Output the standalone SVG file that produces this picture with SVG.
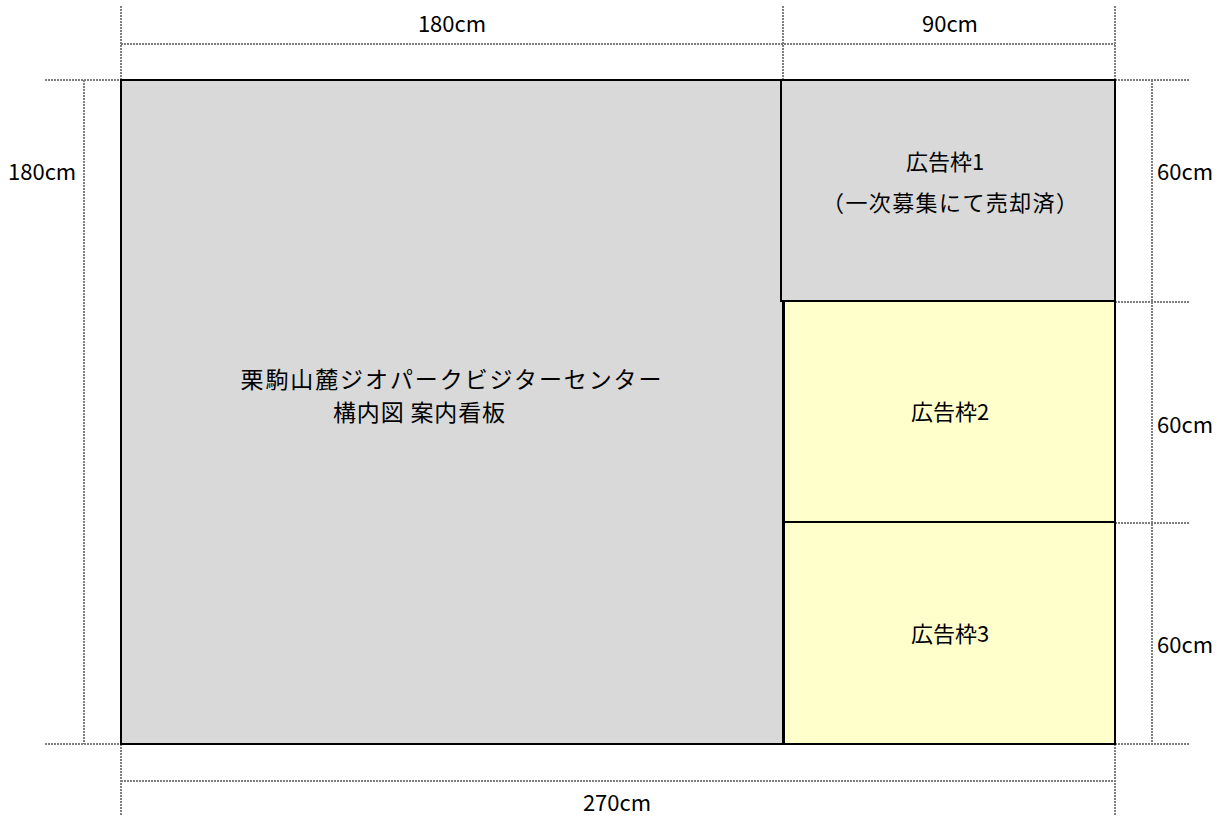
<svg xmlns="http://www.w3.org/2000/svg" width="1227" height="816" viewBox="0 0 1227 816">
<style>
.dim{stroke:#7f7f7f;stroke-width:2;stroke-dasharray:2 1;fill:none}
.box{stroke:#000;stroke-width:2}
.gray{fill:#d9d9d9}
.yel{fill:#ffffcc}
text{font-family:"Noto Sans CJK JP","Noto Sans",sans-serif;fill:#000}
.t{font-size:22px;text-anchor:middle}
.d{font-size:22px}
.m{font-size:23px}
</style>
<rect width="1227" height="816" fill="#fff"/>
<g id="dimensions">
<line class="dim" x1="121" y1="6" x2="121" y2="80"/>
<line class="dim" x1="783" y1="6" x2="783" y2="80"/>
<line class="dim" x1="1115" y1="6" x2="1115" y2="80"/>
<line class="dim" x1="121" y1="44" x2="1115" y2="44"/>
<line class="dim" x1="45" y1="80" x2="121" y2="80"/>
<line class="dim" x1="45" y1="744" x2="121" y2="744"/>
<line class="dim" x1="84" y1="80" x2="84" y2="744"/>
<line class="dim" x1="1115" y1="80" x2="1190" y2="80"/>
<line class="dim" x1="1115" y1="302" x2="1190" y2="302"/>
<line class="dim" x1="1115" y1="523" x2="1190" y2="523"/>
<line class="dim" x1="1115" y1="744" x2="1190" y2="744"/>
<line class="dim" x1="1152" y1="80" x2="1152" y2="744"/>
<line class="dim" x1="121" y1="744" x2="121" y2="816"/>
<line class="dim" x1="1115" y1="744" x2="1115" y2="816"/>
<line class="dim" x1="121" y1="781" x2="1115" y2="781"/>
<text class="d" x="452" y="32" text-anchor="middle">180cm</text>
<text class="d" x="950" y="32" text-anchor="middle">90cm</text>
<text class="d" x="617" y="811" text-anchor="middle">270cm</text>
<text class="d" x="8" y="180">180cm</text>
<text class="d" x="1157" y="180">60cm</text>
<text class="d" x="1157" y="433">60cm</text>
<text class="d" x="1157" y="653">60cm</text>
</g>
<g id="main">
<rect class="box gray" x="121" y="80" width="662" height="664"/>
<text class="m" x="451" y="388" text-anchor="middle" textLength="421" lengthAdjust="spacing">栗駒山麓ジオパークビジターセンター</text>
<text class="m" x="333" y="421" textLength="172" lengthAdjust="spacing">構内図 案内看板</text>
</g>
<g id="ad1">
<rect class="box gray" x="781" y="80" width="334" height="221"/>
<text class="t" x="945" y="170">広告枠1</text>
<text class="t" x="950" y="211" textLength="256" lengthAdjust="spacing">（一次募集にて売却済）</text>
</g>
<g id="ad2">
<rect class="box yel" x="784" y="301" width="331" height="221"/>
<text class="t" x="950" y="420">広告枠2</text>
</g>
<g id="ad3">
<rect class="box yel" x="784" y="522" width="331" height="222"/>
<text class="t" x="950" y="642">広告枠3</text>
</g>
</svg>
